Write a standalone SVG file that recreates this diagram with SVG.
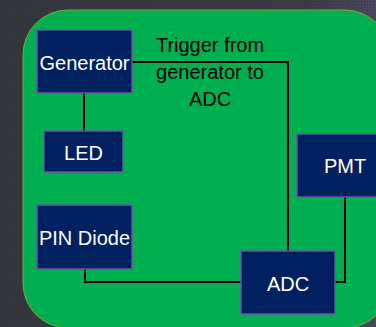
<svg xmlns="http://www.w3.org/2000/svg" width="376" height="327" viewBox="0 0 376 327">
  <defs>
    <linearGradient id="bg" x1="0" y1="0" x2="1" y2="0">
      <stop offset="0" stop-color="#34353d"/>
      <stop offset="0.8" stop-color="#3a3a44"/>
      <stop offset="1" stop-color="#4a4760"/>
    </linearGradient>
    <pattern id="dots" width="3" height="3" patternUnits="userSpaceOnUse">
      <rect width="3" height="3" fill="none"/>
      <rect x="1" y="1" width="1" height="1" fill="#2e2f36" opacity="0.6"/>
    </pattern>
  </defs>
  <style>
    .box { fill: #002060; stroke: #6656a6; stroke-width: 1.5; }
    .lbl { font-family: "Liberation Sans", Arial, sans-serif; font-size: 20px; fill: #ffffff; text-anchor: middle; }
    .note { font-family: "Liberation Sans", Arial, sans-serif; font-size: 20px; fill: #000000; text-anchor: middle; }
    .wire { fill: none; stroke: #000000; stroke-width: 2; }
  </style>
  <rect width="376" height="327" fill="url(#bg)"/>
  <rect width="376" height="327" fill="url(#dots)"/>
  <rect id="panel" x="23" y="10" width="367" height="318" rx="45" ry="45" fill="#00b050" stroke="#8aa040" stroke-width="1"/>

  <g id="connectors">
    <polyline class="wire" points="132,62 288,62 288,251"/>
    <line class="wire" x1="84" y1="93" x2="84" y2="131"/>
    <polyline class="wire" points="85,269 85,282 241,282"/>
    <polyline class="wire" points="345,197 345,282 335,282"/>
  </g>

  <g id="trigger-label">
    <text class="note" x="210" y="52">Trigger from</text>
    <text class="note" x="210" y="79">generator to</text>
    <text class="note" x="210" y="106">ADC</text>
  </g>

  <g id="generator">
    <rect class="box" x="37" y="30" width="95" height="63"/>
    <text class="lbl" x="84.5" y="70">Generator</text>
  </g>
  <g id="led">
    <rect class="box" x="44" y="131" width="79" height="41"/>
    <text class="lbl" x="83.5" y="159.5">LED</text>
  </g>
  <g id="pin-diode">
    <rect class="box" x="37" y="205" width="95" height="64"/>
    <text class="lbl" x="84.5" y="245">PIN Diode</text>
  </g>
  <g id="pmt">
    <rect class="box" x="297" y="134" width="95" height="63"/>
    <text class="lbl" x="345" y="173">PMT</text>
  </g>
  <g id="adc">
    <rect class="box" x="241" y="251" width="94" height="63"/>
    <text class="lbl" x="288" y="290.5">ADC</text>
  </g>
</svg>
